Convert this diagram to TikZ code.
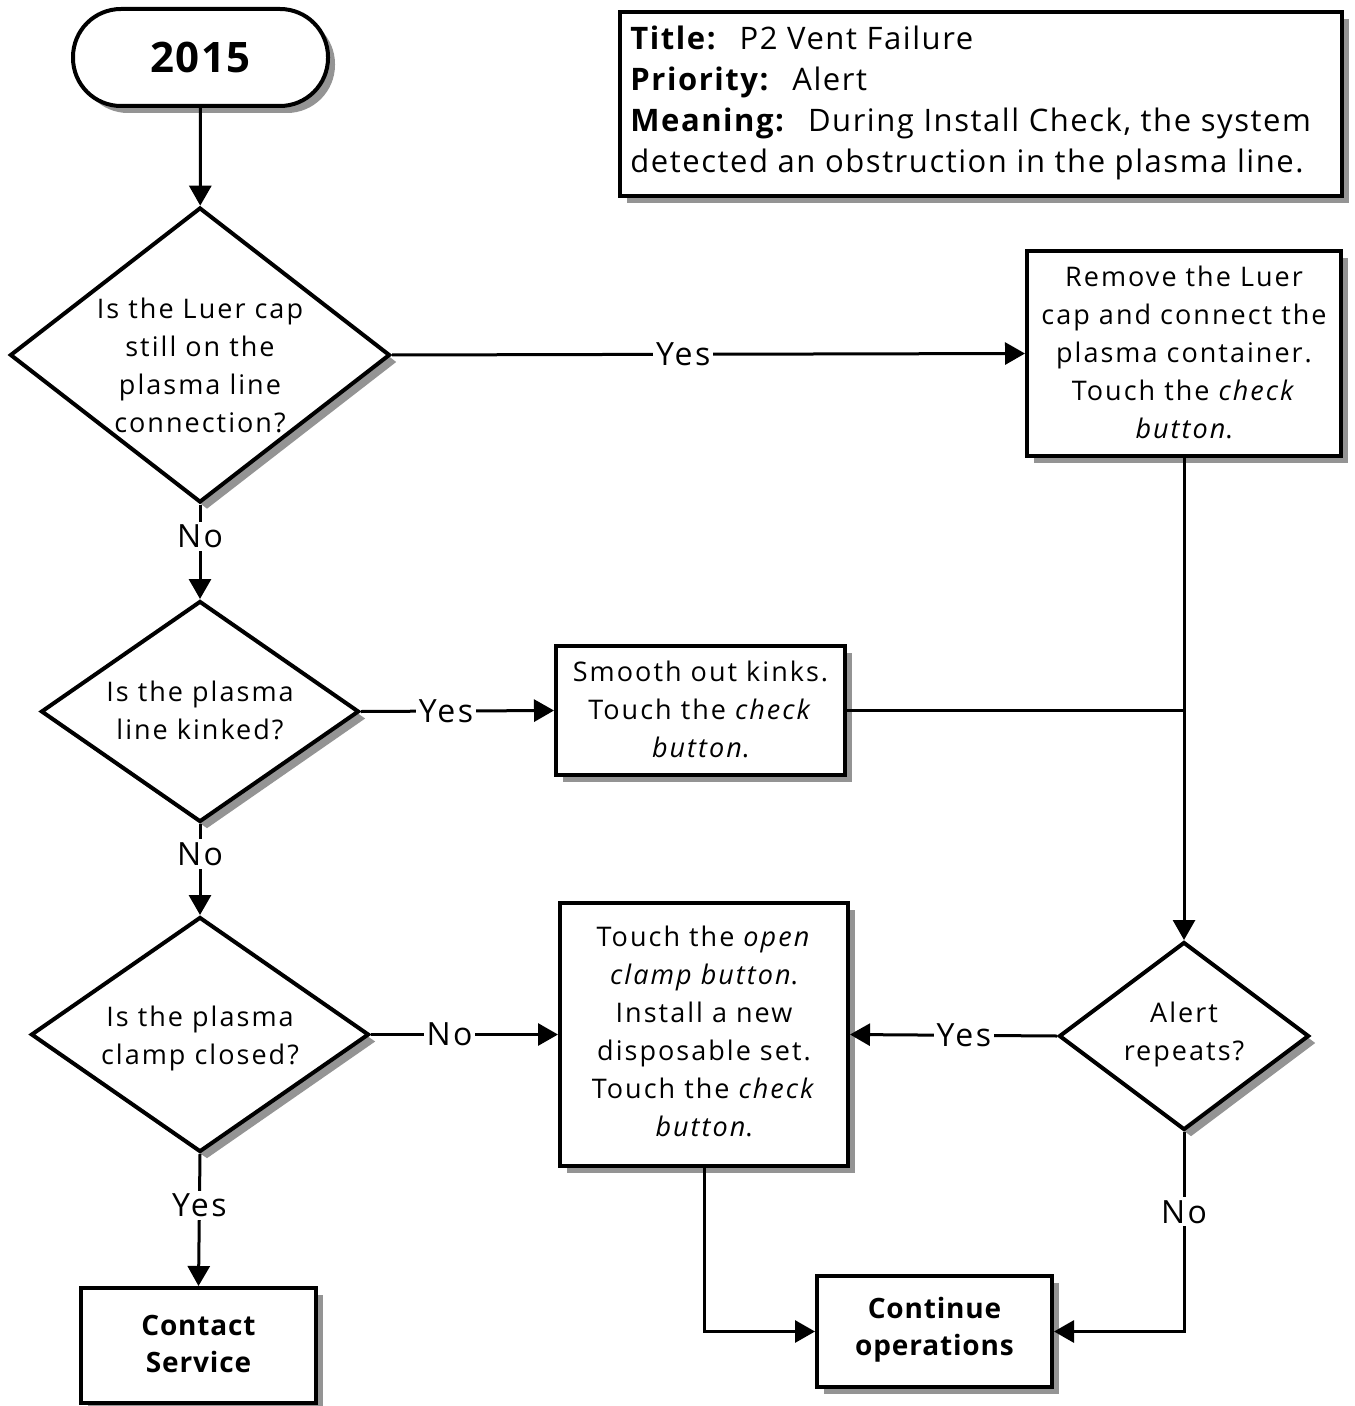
\documentclass[tikz,border=0pt]{standalone}
\usepackage{fontspec}
\setmainfont{Open Sans}[LetterSpace=7.5]
\newfontfamily\hdrfont{Open Sans}[LetterSpace=5]
\newfontfamily\boldfam{Open Sans}[LetterSpace=3]
\usetikzlibrary{shapes.geometric,shadows,arrows.meta}

\begin{document}
\begin{tikzpicture}[x=0.5pt,y=-0.5pt,
  shade/.style={drop shadow={shadow xshift=3.5pt,shadow yshift=-3.5pt,fill=black!42,opacity=1}},
  stepbox/.style={draw,line width=2pt,fill=white,shade,inner sep=0pt},
  dia/.style={diamond,draw,line width=2pt,fill=white,shade,inner sep=0pt},
  txt/.style={align=center,font=\fontsize{13.5}{19}\selectfont,inner sep=0pt},
  btxt/.style={align=center,font=\fontsize{14}{18.5}\selectfont\boldfam\bfseries,inner sep=0pt},
  line/.style={line width=1.5pt},
  conn/.style={line width=1.5pt,-{Triangle[length=10pt,width=11pt]}},
  lbl/.style={fill=white,inner sep=1.5pt,font=\fontsize{16}{18}\selectfont},
]
\useasboundingbox (0,0) rectangle (1354,1406);

% start terminal
\node[stepbox,rounded corners=24pt,minimum width=127.5pt,minimum height=48.5pt,
      font=\fontsize{21}{24}\selectfont\boldfam\bfseries] (start) at (200.5,57.5) {2015};

% header box
\node[stepbox,minimum width=361pt,minimum height=92pt] (hdr) at (981,104) {};
\node[align=left,anchor=west,inner sep=0pt,font=\fontsize{15.5}{20.5}\selectfont\hdrfont] (hdrtxt) at (630,103)
  {\textbf{Title:}~ P2 Vent Failure\\
   \textbf{Priority:}~ Alert\\
   \textbf{Meaning:}~ During Install Check, the system\\
   detected an obstruction in the plasma line.};

% decisions
\node[dia,minimum width=190pt,minimum height=147.5pt] (d1) at (200,355) {};
\node[txt] (d1t) at (200,365) {Is the Luer cap\\still on the\\plasma line\\connection?};

\node[dia,minimum width=159pt,minimum height=110.5pt] (d2) at (200,711.5) {};
\node[txt] (d2t) at (200,710) {Is the plasma\\line kinked?};

\node[dia,minimum width=169pt,minimum height=117.5pt] (d3) at (200,1034.5) {};
\node[txt] (d3t) at (200,1038) {Is the plasma\\clamp closed?};

\node[dia,minimum width=125pt,minimum height=94pt] (alert) at (1184,1036) {};
\node[txt] (alertt) at (1184,1034) {Alert\\repeats?};

% actions
\node[stepbox,minimum width=157pt,minimum height=102.5pt] (rem) at (1184,353.5) {};
\node[txt] (remt) at (1184,352) {Remove the Luer\\cap and connect the\\plasma container.\\Touch the \textit{check}\\\textit{button}.};

\node[stepbox,minimum width=144.5pt,minimum height=64.5pt] (smooth) at (700.5,710.5) {};
\node[txt] (smootht) at (700.5,709.5) {Smooth out kinks.\\Touch the \textit{check}\\\textit{button}.};

\node[stepbox,minimum width=144pt,minimum height=131.5pt] (open) at (704,1034.5) {};
\node[txt] (opent) at (704,1031) {Touch the \textit{open}\\\textit{clamp button}.\\Install a new\\disposable set.\\Touch the \textit{check}\\\textit{button}.};

% end points
\node[stepbox,minimum width=117.5pt,minimum height=57.5pt] (contact) at (198.5,1345.5) {};
\node[btxt] (contactt) at (198.5,1344) {Contact\\Service};

\node[stepbox,minimum width=117.5pt,minimum height=55.5pt] (cont) at (934.5,1331.5) {};
\node[btxt] (contt) at (934.5,1329.5) {Continue\\operations};

% connectors
\draw[conn] (start) -- (d1);
\draw[conn] (d1.east) -- node[lbl,pos=0.46] (l1) {Yes} (rem.west);
\draw[conn] (d1.south) -- node[lbl,pos=0.34] (l2) {No} (d2.north);
\draw[conn] (d2.east) -- node[lbl,pos=0.44] (l3) {Yes} (smooth.west);
\draw[conn] (d2.south) -- node[lbl,pos=0.33] (l4) {No} (d3.north);
\draw[conn] (d3.east) -- node[lbl,pos=0.42] (l5) {No} (open.west);
\draw[conn] (d3.south) -- node[lbl,pos=0.39] (l6) {Yes} (contact.north);
\draw[conn] (rem.south) -- (alert.north);
\coordinate (join) at (smooth.east -| rem.south);
\draw[line] (smooth.east) -- (join);
\draw[conn] (alert.west) -- node[lbl,pos=0.45] (l7) {Yes} (open.east);
\draw[conn] (alert.south) |- node[lbl,pos=0.2] (l8) {No} (cont.east);
\draw[conn] (open.south) |- (cont.west);
\end{tikzpicture}
\end{document}
